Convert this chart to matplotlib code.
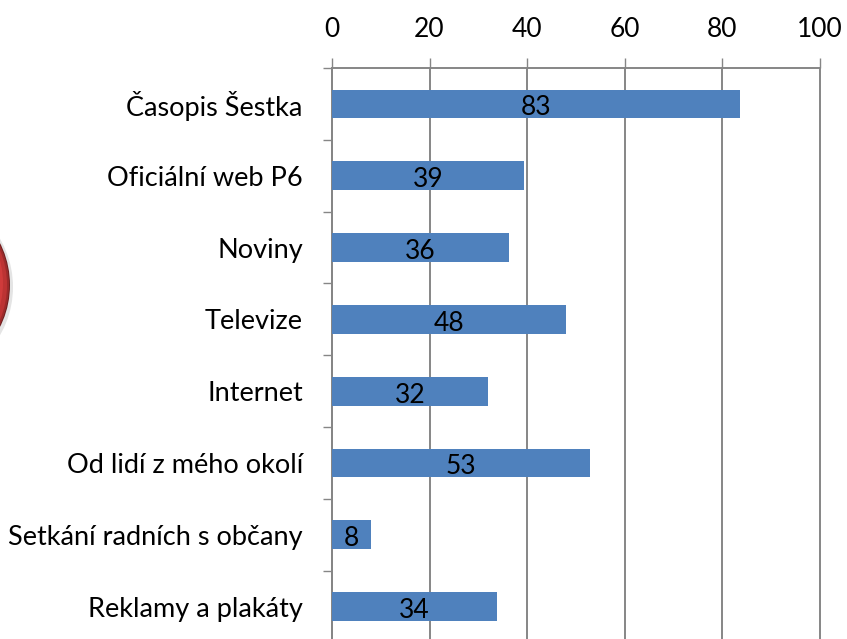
import matplotlib
matplotlib.use('Agg')
import matplotlib.pyplot as plt
from matplotlib.patches import Circle
from matplotlib.ticker import MultipleLocator

categories = ['Časopis Šestka', 'Oficiální web P6', 'Noviny', 'Televize',
              'Internet', 'Od lidí z mého okolí', 'Setkání radních s občany',
              'Reklamy a plakáty']
values = [83.6, 39.4, 36.3, 47.9, 32, 53, 8, 33.9]
labels = ['83', '39', '36', '48', '32', '53', '8', '34']

plt.rcParams['font.family'] = ['Lato', 'DejaVu Sans']
grey = '#868686'

W, H = 847, 639
fig = plt.figure(figsize=(W / 100, H / 100), dpi=100)
ax = fig.add_axes([332 / W, 0, (819.5 - 332) / W, (639 - 68) / H])

pos = list(range(len(categories)))
ax.barh(pos, values, height=0.4, color='#4F81BD', zorder=3)
ax.set_xlim(0, 100)
ax.set_ylim(7.45, -0.5)

ax.xaxis.set_major_locator(MultipleLocator(20))
ax.xaxis.tick_top()
ax.grid(axis='x', color=grey, linewidth=1.4, zorder=0)
for line in ax.get_xgridlines():
    line.set_clip_on(False)
ax.tick_params(axis='x', length=7, width=1, color=grey, labelsize=19, pad=11.5, labelcolor='black')

ax.set_yticks(pos)
ax.set_yticklabels(categories, fontsize=19.5)
ax.set_yticks([p - 0.5 for p in pos], minor=True)
ax.tick_params(axis='y', which='major', length=0, pad=21)
ax.tick_params(axis='y', which='minor', length=6.5, width=1, color=grey)

for s in ['right', 'bottom']:
    ax.spines[s].set_visible(False)
ax.spines['left'].set_color(grey)
ax.spines['top'].set_color(grey)
ax.spines['left'].set_linewidth(1.4)
ax.spines['top'].set_linewidth(1.4)

for p, v, t in zip(pos, values, labels):
    ax.text(v / 2, p + 0.055, t, ha='center', va='center', fontsize=19, zorder=4)

# red button cut off by the left edge, darker towards the rim
bg = fig.add_axes([0, 0, 1, 1], zorder=-1)
bg.set_xlim(0, W)
bg.set_ylim(H, 0)
bg.axis('off')
bg.add_patch(Circle((-83, 287), 96, facecolor='#E4E4E4', edgecolor='none'))
bg.add_patch(Circle((-83, 285), 93, facecolor='#6E2020', edgecolor='none'))
bg.add_patch(Circle((-83, 285), 92, facecolor='#9C2A2A', edgecolor='none'))
bg.add_patch(Circle((-83, 285), 90, facecolor='#BC3333', edgecolor='none'))
bg.add_patch(Circle((-84, 283), 87, facecolor='#CF3B3B', edgecolor='none'))

fig.savefig('out.png', dpi=100)
